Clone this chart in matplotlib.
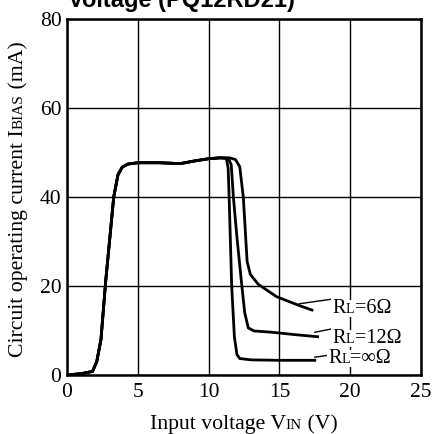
import matplotlib
matplotlib.use("Agg")
import matplotlib.pyplot as plt
from matplotlib.transforms import IdentityTransform, Bbox
from matplotlib.patches import Rectangle

# ---------------- data ----------------
v_inf = [0, 1.0, 1.8, 2.1, 2.4, 2.73, 3.0, 3.3, 3.6, 3.9, 4.3, 5.0, 6.5, 8.0, 9.0, 10.0, 10.8, 11.25,
         11.38, 11.45, 11.63, 11.82, 12.0, 12.2, 13.0, 15.0, 17.5]
i_inf = [0, 0.3, 0.8, 3, 8, 21, 30, 40, 45, 46.7, 47.4, 47.7, 47.7, 47.5, 48.1, 48.6, 48.8, 48.7,
         46.5, 40, 20, 8.6, 4.6, 3.7, 3.4, 3.3, 3.3]

v_12 = [0, 1.0, 1.8, 2.1, 2.4, 2.73, 3.0, 3.3, 3.6, 3.9, 4.3, 5.0, 6.5, 8.0, 9.0, 10.0, 10.8, 11.4,
        11.6, 11.75, 12.0, 12.3, 12.55, 12.8, 13.2, 14.5, 16.0, 17.7]
i_12 = [0, 0.3, 0.8, 3, 8, 21, 30, 40, 45, 46.7, 47.4, 47.7, 47.7, 47.5, 48.1, 48.6, 48.8, 48.7,
        47.2, 40, 31, 21.5, 14, 10.6, 9.9, 9.6, 9.1, 8.6]

v_6 = [0, 1.0, 1.8, 2.1, 2.4, 2.73, 3.0, 3.3, 3.6, 3.9, 4.3, 5.0, 6.5, 8.0, 9.0, 10.0, 10.8, 11.5,
       11.9, 12.2, 12.45, 12.6, 12.72, 12.95, 13.5, 14.1, 14.8, 15.6, 16.5, 17.3]
i_6 = [0, 0.3, 0.8, 3, 8, 21, 30, 40, 45, 46.7, 47.4, 47.7, 47.7, 47.5, 48.1, 48.6, 48.8, 48.8,
       48.4, 46.8, 40, 32, 25.5, 22.6, 20.4, 19.1, 17.6, 16.6, 15.5, 14.6]

# label leader lines (x pair, y pair) and label text pieces
lead_6 = [(16.4, 18.6), (16.0, 17.0)]
lead_12 = [(17.5, 18.6), (9.6, 10.3)]
lead_inf = [(17.5, 18.6), (4.0, 4.5)]
label_pos = [(18.75, 13.9), (18.75, 7.2), (18.45, 2.7)]
label_parts = [[("R", 14.5), ("L", 10), ("=6Ω", 14.5)],
               [("R", 14.5), ("L", 10), ("=12Ω", 14.5)],
               [("R", 14.5), ("L", 10), ("=∞Ω", 14.5)]]

x_ticks = [0, 5, 10, 15, 20, 25]
y_ticks = [0, 20, 40, 60, 80]
title_text = "Voltage (PQ12RD21)"

SERIF = ["Liberation Serif", "DejaVu Serif"]

# ---------------- figure ----------------
W, H = 433, 434
fig = plt.figure(figsize=(W / 100, H / 100), dpi=100)
ax = fig.add_axes([67 / W, (H - 375) / H, 354 / W, 356 / H])
ax.set_xlim(0, 25)
ax.set_ylim(0, 80)
ax.set_xticks(x_ticks)
ax.set_yticks(y_ticks)
ax.grid(True, color="black", linewidth=1.0)
ax.set_axisbelow(True)
ax.tick_params(length=0, labelsize=15.5)
ax.tick_params(axis="x", pad=6)
ax.tick_params(axis="y", pad=4)
for lab in ax.get_xticklabels() + ax.get_yticklabels():
    lab.set_family(SERIF)
for s in ax.spines.values():
    s.set_linewidth(1.8)

for v, i in [(v_inf, i_inf), (v_12, i_12), (v_6, i_6)]:
    ax.plot(v, i, color="black", linewidth=2.0, solid_joinstyle="round")

for ld in [lead_6, lead_12, lead_inf]:
    ax.plot(ld[0], ld[1], color="black", linewidth=1.0)

renderer = fig.canvas.get_renderer()


def chain(parts, x, y, rotation=0, align="left", box=False):
    """Draw consecutive text pieces sharing one baseline, starting/centered at display (x, y)."""
    texts, lengths = [], []
    for s, size in parts:
        t = fig.text(0, 0, s, fontsize=size, family=SERIF, rotation=rotation,
                     rotation_mode="anchor", ha="left", va="baseline",
                     transform=IdentityTransform(), zorder=5)
        bb = t.get_window_extent(renderer)
        lengths.append(bb.height if rotation == 90 else bb.width)
        texts.append(t)
    total = sum(lengths)
    pos = -total / 2 if align == "center" else 0
    for t, L in zip(texts, lengths):
        if rotation == 90:
            t.set_position((x, y + pos))
        else:
            t.set_position((x + pos, y))
        pos += L
    if box:
        u = Bbox.union([t.get_window_extent(renderer) for t in texts])
        fig.patches.append(Rectangle((u.x0 - 1, u.y0 + 1), u.width + 2, u.height - 2,
                                     facecolor="white", edgecolor="none",
                                     transform=IdentityTransform(), zorder=4, figure=fig))


# curve labels
for (lx, ly), parts in zip(label_pos, label_parts):
    px, py = ax.transData.transform((lx, ly))
    chain(parts, px, py, box=True)

# x label
chain([("Input voltage V", 15.7), ("IN", 11), (" (V)", 15.7)], 243.5, H - 429, align="center")
# y label
chain([("Circuit operating current I", 15.7), ("BIAS", 11), (" (mA)", 15.7)], 23, H - 199,
      rotation=90, align="center")

# title (partially cut off at the top)
fig.text(68 / W, (H - 7) / H, title_text, family=["Liberation Sans", "DejaVu Sans"],
         fontweight="bold", fontsize=17, ha="left", va="baseline")

fig.savefig("out.png", dpi=100)
